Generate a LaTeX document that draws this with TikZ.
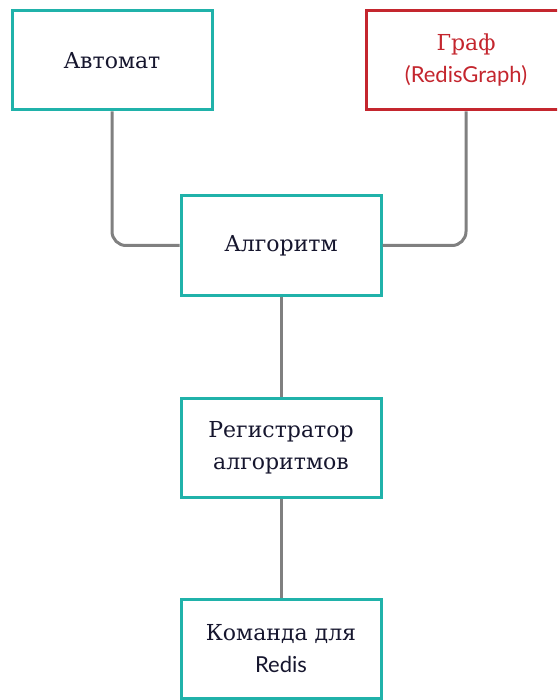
\documentclass[tikz,border=0pt]{standalone}
\usepackage{fontspec}
\setmainfont{DejaVu Serif}
\newfontfamily\labelsans{Lato}
\usetikzlibrary{positioning}

\definecolor{boxteal}{HTML}{20B2AA}
\definecolor{boxred}{HTML}{C4262E}
\definecolor{linkgray}{HTML}{808080}
\definecolor{textnavy}{HTML}{16162E}

\begin{document}
\begin{tikzpicture}[
  x=1pt, y=-1pt,
  % === Node styles ===
  block/.style={
    draw=boxteal, line width=3pt, fill=white,
    minimum width=200pt, minimum height=99pt,
    font=\fontsize{22}{32}\selectfont, text=textnavy,
    align=center, inner sep=0pt
  },
  redblock/.style={block, draw=boxred, text=boxred},
  % === Connector styles ===
  link/.style={draw=linkgray, line width=3pt, rounded corners=14pt},
]

% page frame
\fill[white] (0,0) rectangle (557,700);
\useasboundingbox (0,0) rectangle (557,700);
\clip (0,0) rectangle (557,700);

% =============================================
% Top row: automaton and graph
% =============================================
\node[block] (auto) at (112, 60.5) {Автомат};
\node[redblock] (graph) at (466, 60.5) {Граф\\{\labelsans\fontsize{22}{32}\selectfont (RedisGraph)}};

% =============================================
% Middle: algorithm chain
% =============================================
\node[block] (algo) at (281, 245.5) {Алгоритм};
\node[block] (reg) at (281, 447.5) {Регистратор\\алгоритмов};
\node[block] (cmd) at (281, 649) {Команда для\\{\labelsans Redis}};

% =============================================
% Connectors
% =============================================
\draw[link] (auto.south) |- (algo.west);
\draw[link] (graph.south) |- (algo.east);
\draw[link] (algo.south) -- (reg.north);
\draw[link] (reg.south) -- (cmd.north);

\end{tikzpicture}
\end{document}
